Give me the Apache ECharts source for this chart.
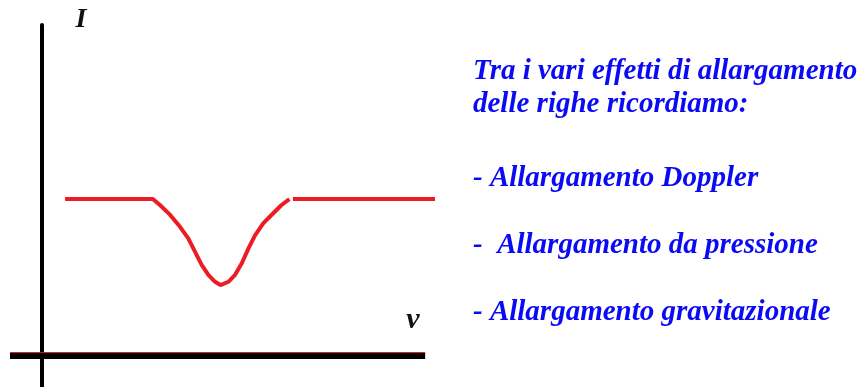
<!DOCTYPE html>
<html>
<head>
<meta charset="utf-8">
<script src="https://cdn.jsdelivr.net/npm/echarts@6/dist/echarts.min.js"></script>
<style>
  html, body { margin: 0; padding: 0; background: #fff; }
  #main { width: 868px; height: 387px; }
</style>
</head>
<body>
<div id="main"></div>
<script>
  // profilo della riga di assorbimento (nu, I)
  var lineaSx = [[6, 47.4], [28.3, 47.4], [30.1, 45.6], [32.7, 42.6], [35.2, 39.0], [37.3, 35.5],
    [39.0, 31.5], [40.7, 27.5], [42.4, 24.5], [44.1, 22.4], [45.5, 21.4], [47.5, 22.4],
    [49.2, 24.5], [50.9, 28.0], [52.6, 32.5], [54.3, 36.5], [56.4, 40.1], [58.9, 43.1],
    [61.0, 45.6], [63.0, 47.4]];
  var lineaDx = [[63.9, 47.4], [100, 47.4]];
  var asseNu = [[-8, 0], [97.5, 0]];
  var testo = [
    'Tra i vari effetti di allargamento',
    'delle righe ricordiamo:',
    '- Allargamento Doppler',
    '-  Allargamento da pressione',
    '- Allargamento gravitazionale'
  ];
  var testoY = [72, 105, 179, 246, 313];

  var myChart = echarts.init(document.getElementById('main'));
  var blu = '#0a0af5';
  var font = 'italic bold 29px "Liberation Serif", "DejaVu Serif", serif';

  var graphic = testo.map(function(t, i) {
    return {
      type: 'text',
      style: { text: t, x: 473, y: testoY[i], font: font, fill: blu, textVerticalAlign: 'middle' }
    };
  });
  graphic.push({
    type: 'text',
    style: { text: 'I', x: 81, y: 20, font: 'italic bold 28px "Liberation Serif", serif', fill: '#111', textAlign: 'center', textVerticalAlign: 'middle' }
  });
  graphic.push({
    type: 'text',
    style: { text: 'ν', x: 413, y: 320, font: 'italic bold 30px "Liberation Serif", serif', fill: '#111', textAlign: 'center', textVerticalAlign: 'middle' }
  });

  var option = {
    animation: false,
    grid: { left: 10, right: 433, top: 25, bottom: 0 },
    xAxis: {
      type: 'value', min: -8, max: 100,
      axisLine: { show: false }, axisTick: { show: false }, axisLabel: { show: false }, splitLine: { show: false }
    },
    yAxis: {
      type: 'value', min: -9.4, max: 100,
      axisLine: { show: true, onZero: true, lineStyle: { color: '#000', width: 4 } },
      axisTick: { show: false }, axisLabel: { show: false }, splitLine: { show: false }
    },
    graphic: graphic,
    series: [
      {
        type: 'line', data: asseNu, symbol: 'none',
        lineStyle: { color: '#000', width: 6 }, z: 3
      },
      {
        type: 'line', data: asseNu.map(function(p) { return [p[0], p[1] + 1.0]; }), symbol: 'none',
        lineStyle: { color: '#c8141c', width: 1 }, z: 4
      },
      {
        type: 'line', data: lineaSx, symbol: 'none',
        lineStyle: { color: '#ed1c24', width: 4 }, z: 5
      },
      {
        type: 'line', data: lineaDx, symbol: 'none',
        lineStyle: { color: '#ed1c24', width: 4 }, z: 5
      }
    ]
  };
  myChart.setOption(option);
</script>
</body>
</html>
